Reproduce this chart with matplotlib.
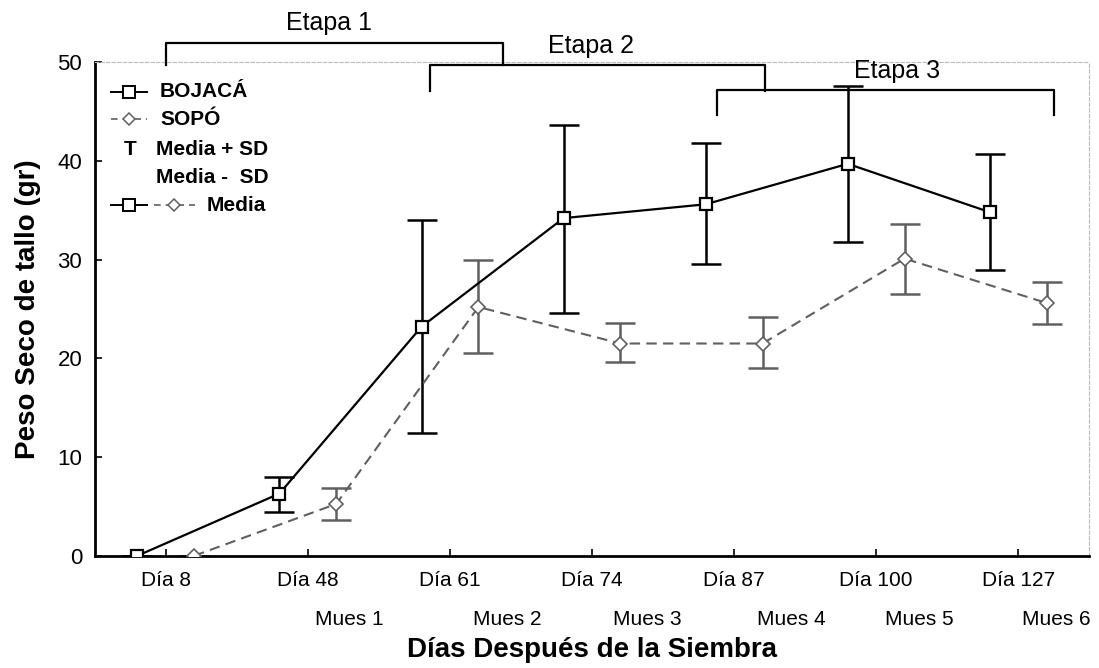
import numpy as np
import matplotlib
matplotlib.use("Agg")
import matplotlib.pyplot as plt

plt.rcParams['font.family'] = ['Liberation Sans', 'DejaVu Sans']

dias = ["Día 8", "Día 48", "Día 61", "Día 74", "Día 87", "Día 100", "Día 127"]
muestras = ["Mues 1", "Mues 2", "Mues 3", "Mues 4", "Mues 5", "Mues 6"]
mues_x = [1.29, 2.40, 3.39, 4.40, 5.30, 6.27]

bojaca = [0.0, 6.3, 23.2, 34.2, 35.6, 39.7, 34.8]
bojaca_hi = [0.0, 8.0, 34.0, 43.6, 41.8, 47.6, 40.7]
bojaca_lo = [0.0, 4.4, 12.4, 24.6, 29.6, 31.8, 28.9]

sopo = [0.0, 5.25, 25.2, 21.5, 21.5, 30.1, 25.6]
sopo_hi = [0.0, 6.9, 30.0, 23.6, 24.2, 33.6, 27.7]
sopo_lo = [0.0, 3.6, 20.5, 19.6, 19.0, 26.5, 23.5]

# etapas: (x0, x1, y barra, fin de patas, x texto, y texto)
etapas = ["Etapa 1", "Etapa 2", "Etapa 3"]
etapa_x0 = [0.0, 1.86, 3.88]
etapa_x1 = [2.37, 4.22, 6.25]
etapa_y = [51.9, 49.66, 47.2]
etapa_leg = [49.66, 47.1, 44.6]
etapa_tx = [1.15, 2.99, 5.15]
etapa_ty = [54.0, 51.6, 49.1]

x = np.arange(len(dias))
off = 0.2
gris = "#606060"

fig = plt.figure(figsize=(10.99, 6.68), dpi=100)
ax = fig.add_axes([0.0862, 0.168, 0.905, 0.739])

ax.errorbar(x - off, bojaca,
            yerr=[np.array(bojaca) - np.array(bojaca_lo), np.array(bojaca_hi) - np.array(bojaca)],
            fmt='none', ecolor='black', elinewidth=1.8, capsize=11, capthick=1.8, zorder=2)
ax.errorbar(x + off, sopo,
            yerr=[np.array(sopo) - np.array(sopo_lo), np.array(sopo_hi) - np.array(sopo)],
            fmt='none', ecolor=gris, elinewidth=1.8, capsize=11, capthick=1.8, zorder=2)
ax.plot(x - off, bojaca, color='black', lw=1.6, marker='s', ms=9, mfc='white',
        mec='black', mew=1.6, zorder=4)
ax.plot(x + off, sopo, color=gris, lw=1.5, ls=(0, (5, 3)), marker='D', ms=7,
        mfc='white', mec=gris, mew=1.2, zorder=4)

ax.set_xlim(-0.5, 6.5)
ax.set_ylim(0, 50)
ax.set_xticks(x)
ax.set_xticklabels(dias, fontsize=15)
ax.set_yticks(range(0, 51, 10))
ax.tick_params(axis='y', labelsize=16, direction='in', length=5, width=1.2, pad=9)
ax.tick_params(axis='x', direction='in', length=5, width=1.2, pad=11)

for s in ['left', 'bottom']:
    ax.spines[s].set_linewidth(2)
for s in ['top', 'right']:
    ax.spines[s].set_color('#bbbbbb')
    ax.spines[s].set_linestyle((0, (3, 2)))
    ax.spines[s].set_linewidth(0.8)

for lab, mx in zip(muestras, mues_x):
    ax.text(mx, -0.13, lab, transform=ax.get_xaxis_transform(), ha='center',
            va='center', fontsize=15)

ax.set_xlabel("Días Después de la Siembra", fontsize=20, fontweight='bold', labelpad=34)
ax.set_ylabel("Peso Seco de tallo (gr)", fontsize=20, fontweight='bold', labelpad=12)

# llaves de etapas
for lab, x0, x1, yb, yl, tx, ty in zip(etapas, etapa_x0, etapa_x1, etapa_y,
                                        etapa_leg, etapa_tx, etapa_ty):
    ax.plot([x0, x0, x1, x1], [yl, yb, yb, yl], color='black', lw=1.6,
            clip_on=False, zorder=5)
    ax.text(tx, ty, lab, ha='center', va='center', fontsize=18, clip_on=False)

# leyenda manual
ax.plot([-0.387, -0.13], [47.0, 47.0], color='black', lw=1.4, clip_on=False)
ax.plot([-0.257], [47.0], marker='s', ms=8, mfc='white', mec='black', mew=1.4)
ax.text(-0.04, 47.0, "BOJACÁ", fontsize=15, fontweight='bold', va='center')
ax.plot([-0.387, -0.13], [44.2, 44.2], color=gris, lw=1.2, ls=(0, (4, 3)))
ax.plot([-0.257], [44.2], marker='D', ms=6.5, mfc='white', mec=gris, mew=1.1)
ax.text(-0.04, 44.2, "SOPÓ", fontsize=15, fontweight='bold', va='center')
ax.text(-0.25, 41.2, "T", fontsize=15, fontweight='bold', va='center', ha='center')
ax.text(-0.067, 41.2, "Media + SD", fontsize=15, fontweight='bold', va='center')
ax.text(-0.067, 38.3, "Media -  SD", fontsize=15, fontweight='bold', va='center')
ax.plot([-0.387, -0.13], [35.5, 35.5], color='black', lw=1.4)
ax.plot([-0.257], [35.5], marker='s', ms=8, mfc='white', mec='black', mew=1.4)
ax.plot([-0.08, 0.205], [35.5, 35.5], color=gris, lw=1.2, ls=(0, (4, 3)))
ax.plot([0.06], [35.5], marker='D', ms=6.5, mfc='white', mec=gris, mew=1.1)
ax.text(0.285, 35.5, "Media", fontsize=15, fontweight='bold', va='center')

fig.savefig("out.png", dpi=100)
